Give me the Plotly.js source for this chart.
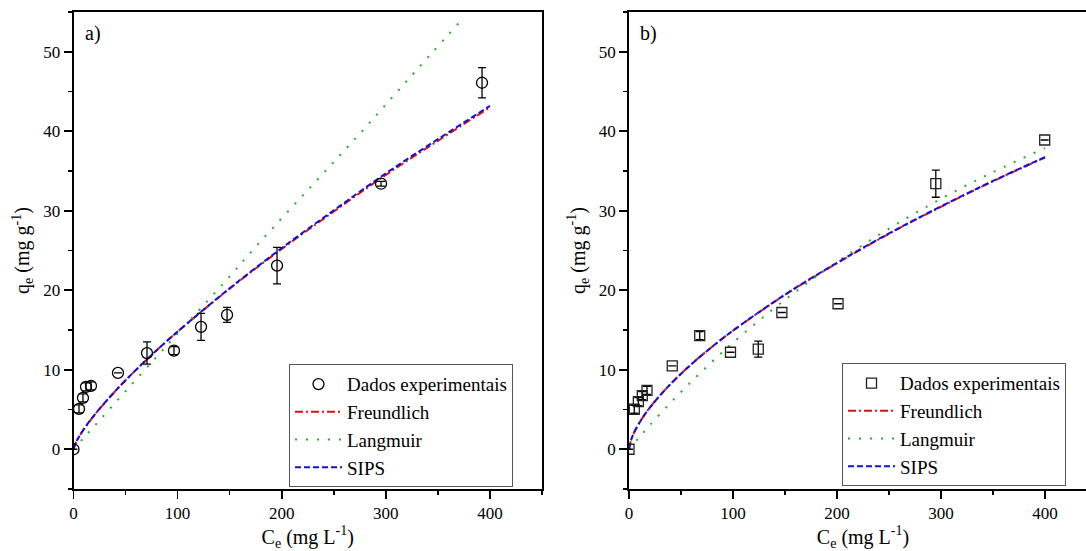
<!DOCTYPE html>
<html><head><meta charset="utf-8">
<script src="https://cdn.plot.ly/plotly-3.0.1.min.js"></script>
<style>html,body{margin:0;padding:0;overflow:hidden;background:#fff;width:1086px;height:551px}#chart{width:1100px;height:551px}</style>
</head><body><div id="chart"></div>
<script>
// ---- Panel a) experimental data ----
const ceA  = [0, 5.3, 9.1, 12, 16.8, 42.7, 70.6, 96.5, 122.5, 147.5, 195.5, 295.4, 392.4];
const qeA  = [0, 5.07, 6.46, 7.84, 7.97, 9.6, 12.1, 12.4, 15.4, 16.9, 23.1, 33.4, 46.1];
const errA = [null, 0.5, 0.5, 0.5, 0.5, null, 1.4, 0.5, 1.7, 0.95, 2.3, 0.3, 1.9];
// ---- Panel a) model curves ----
const cFitA   = [0, 2, 5, 10, 20, 40, 60, 80, 100, 150, 200, 250, 300, 350, 400];
const freundA = [0, 0.73, 1.47, 2.51, 4.28, 7.30, 9.98, 12.46, 14.79, 20.2, 25.2, 29.9, 34.5, 38.8, 43.0];
const sipsA   = [0, 0.78, 1.52, 2.55, 4.30, 7.30, 9.98, 12.47, 14.8, 20.25, 25.3, 30.05, 34.7, 39.0, 43.2];
const cLangA  = [0, 10, 25, 50, 80, 100, 145, 180, 230, 275, 320, 370];
const langA   = [0, 1.46, 3.64, 7.3, 11.65, 14.55, 21.0, 26.2, 33.3, 39.7, 46.3, 53.6];

// ---- Panel b) experimental data ----
const ceB  = [0, 5.1, 9, 12.8, 17.3, 41.6, 68, 97.6, 124.3, 147, 201, 295, 399.7];
const qeB  = [0, 5.03, 6.0, 6.75, 7.4, 10.5, 14.3, 12.2, 12.6, 17.2, 18.3, 33.4, 38.9];
const errB = [null, 0.5, 0.5, 0.5, 0.5, null, 0.5, null, 1.0, null, null, 1.7, null];
// ---- Panel b) model curves ----
const cFitB   = [0, 2, 5, 10, 20, 40, 60, 80, 100, 150, 200, 250, 300, 350, 400];
const freundB = [0, 1.17, 2.13, 3.34, 5.24, 8.22, 10.70, 12.90, 14.92, 19.42, 23.4, 27.1, 30.5, 33.7, 36.7];
const sipsB   = [0, 1.15, 2.12, 3.33, 5.23, 8.20, 10.70, 12.90, 14.93, 19.45, 23.45, 27.15, 30.55, 33.75, 36.75];
const cLangB  = [0, 10, 20, 40, 60, 80, 100, 150, 200, 250, 300, 350, 400];
const langB   = [0, 1.53, 3.02, 5.85, 8.52, 11.03, 13.41, 18.81, 23.55, 27.75, 31.5, 34.85, 37.88];

const legendNames = ['Dados experimentais', 'Freundlich', 'Langmuir', 'SIPS'];

const serif = 'Liberation Serif';
const RED = '#dd1111', GREEN = '#22b022', BLUE = '#1010e0';

function curves(xa, ya, leg, cF, fr, cL, la, si) {
  return [
    {x: cF, y: fr, xaxis: xa, yaxis: ya, legend: leg, name: legendNames[1], legendrank: 2, mode: 'lines',
     line: {color: RED, width: 2, dash: '8px,3px,2px,3px', shape: 'spline'}},
    {x: cL, y: la, xaxis: xa, yaxis: ya, legend: leg, name: legendNames[2], legendrank: 3, mode: 'lines',
     line: {color: GREEN, width: 2, dash: '2px,9px', shape: 'spline'}},
    {x: cF, y: si, xaxis: xa, yaxis: ya, legend: leg, name: legendNames[3], legendrank: 4, mode: 'lines',
     line: {color: BLUE, width: 2, dash: '6px,3px', shape: 'spline'}}
  ];
}
function points(xa, ya, leg, xs, ys, es, sym, size, col) {
  return {x: xs, y: ys, xaxis: xa, yaxis: ya, legend: leg, name: legendNames[0], legendrank: 1,
    mode: 'markers', marker: {symbol: sym, size: size, color: col, line: {color: col, width: 1.3}},
    error_y: {type: 'data', array: es, visible: true, color: '#000', thickness: 1.3, width: 4}};
}

const data = [
  ...curves('x', 'y', 'legend', cFitA, freundA, cLangA, langA, sipsA),
  points('x', 'y', 'legend', ceA, qeA, errA, 'circle-open', 11, '#000'),
  ...curves('x2', 'y2', 'legend2', cFitB, freundB, cLangB, langB, sipsB),
  points('x2', 'y2', 'legend2', ceB, qeB, errB, 'square-open', 10, '#222')
];

const W = 1100;
function xax(domain, anchor) {
  return {domain: domain, anchor: anchor, range: [0, 450], tick0: 0, dtick: 100,
    ticks: 'outside', ticklen: 8, tickwidth: 1.6, tickcolor: '#000',
    showline: true, linecolor: '#000', linewidth: 1.8, mirror: true,
    showgrid: false, zeroline: false, automargin: false, fixedrange: true,
    tickfont: {family: serif, size: 17, color: '#000'},
    minor: {dtick: 50, ticks: 'outside', ticklen: 4, tickwidth: 1.6, tickcolor: '#000', showgrid: false},
    title: {text: 'C<sub>e</sub> (mg L<sup>-1</sup>)', font: {family: serif, size: 20, color: '#000'}}};
}
function yax(anchor) {
  return {domain: [0, 1], anchor: anchor, range: [-5, 55], tick0: 0, dtick: 10,
    ticks: 'outside', ticklen: 8, tickwidth: 1.6, tickcolor: '#000',
    showline: true, linecolor: '#000', linewidth: 1.8, mirror: true,
    showgrid: false, zeroline: false, automargin: true, fixedrange: true,
    tickfont: {family: serif, size: 17, color: '#000'},
    minor: {dtick: 5, ticks: 'outside', ticklen: 4, tickwidth: 1.6, tickcolor: '#000', showgrid: false},
    title: {text: 'q<sub>e</sub> (mg g<sup>-1</sup>)', standoff: 8, font: {family: serif, size: 20, color: '#000'}}};
}
const legStyle = {xanchor: 'left', yanchor: 'top', font: {family: serif, size: 19, color: '#000'},
  bordercolor: '#555', borderwidth: 1, bgcolor: '#fff', tracegroupgap: 0, itemwidth: 47};

const layout = {
  width: W, height: 551,
  margin: {l: 0, r: 0, t: 12.3, b: 62.4},
  paper_bgcolor: '#fff', plot_bgcolor: '#fff',
  font: {family: serif, color: '#000'},
  xaxis: xax([73.5 / W, 542 / W], 'y'),
  yaxis: yax('x'),
  xaxis2: xax([629 / W, 1097 / W], 'y2'),
  yaxis2: yax('x2'),
  legend: Object.assign({x: 289 / W, y: 0.2616}, legStyle),
  legend2: Object.assign({x: 842 / W, y: 0.2637}, legStyle),
  annotations: [
    {text: 'a)', xref: 'x domain', yref: 'y domain', x: 0.02, y: 0.9545, xanchor: 'left', yanchor: 'middle',
     showarrow: false, font: {family: serif, size: 20, color: '#000'}},
    {text: 'b)', xref: 'x2 domain', yref: 'y2 domain', x: 0.02, y: 0.9545, xanchor: 'left', yanchor: 'middle',
     showarrow: false, font: {family: serif, size: 20, color: '#000'}}
  ],
  showlegend: true
};

Plotly.newPlot('chart', data, layout, {displayModeBar: false, staticPlot: true});
</script>
</body></html>
